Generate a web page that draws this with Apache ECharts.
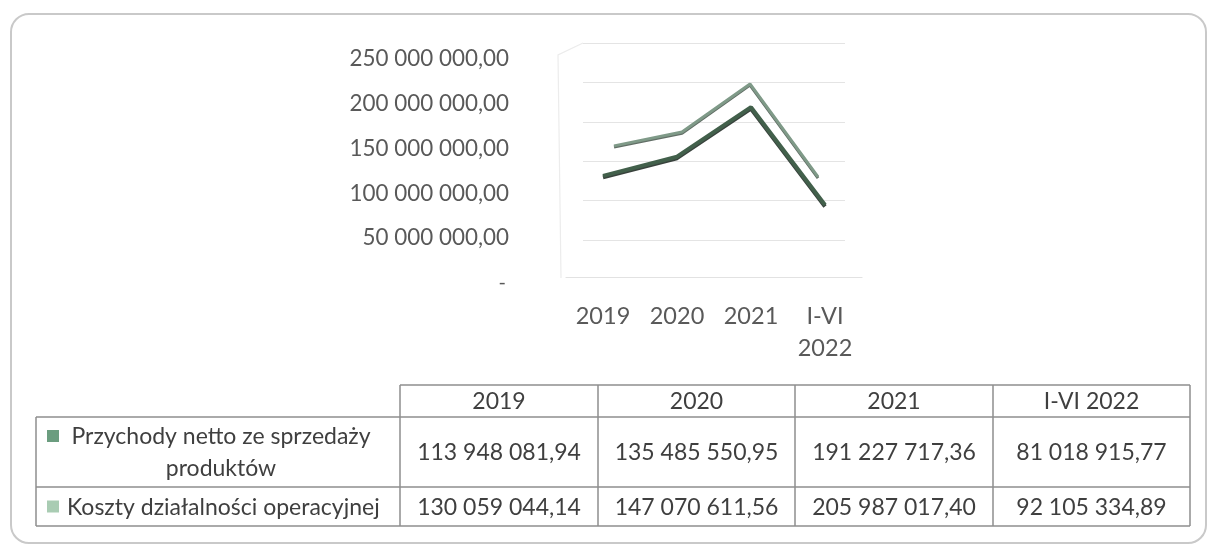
<!DOCTYPE html>
<html>
<head>
<meta charset="utf-8">
<script src="https://cdn.jsdelivr.net/npm/echarts@6/dist/echarts.min.js"></script>
<style>
  html, body { margin: 0; padding: 0; background: #ffffff; }
  #chart { width: 1208px; height: 548px; }
</style>
</head>
<body>
<div id="chart"></div>
<script>
// Periods and the two financial series (PLN)
const categories = ['2019', '2020', '2021', 'I-VI 2022'];
const seriesNames = ['Przychody netto ze sprzedaży produktów', 'Koszty działalności operacyjnej'];
const revenue = [113948081.94, 135485550.95, 191227717.36, 81018915.77];
const costs = [130059044.14, 147070611.56, 205987017.40, 92105334.89];
const valueTicks = [0, 50000000, 100000000, 150000000, 200000000, 250000000];

// Styling
const FONT = 'Lato';
const AXIS_TEXT = '#595959';
const TABLE_TEXT = '#3f3f3f';
const TABLE_LINE = '#8e8e8e';
const WALL_LINE = '#e4e4e4';
const lineColors = ['#42604b', '#7f9a88'];
const keyColors = ['#6b9d7f', '#a9ccb3'];

const yMin = valueTicks[0];
const yMax = valueTicks[valueTicks.length - 1];
const yStep = valueTicks[1] - valueTicks[0];

// Polish number format: space-grouped thousands, comma decimals, zero as dash
function formatPL(v) {
  if (v === 0) return '-';
  const parts = v.toFixed(2).split('.');
  return parts[0].replace(/\B(?=(\d{3})+(?!\d))/g, ' ') + ',' + parts[1];
}

function wrapLabel(text, maxChars) {
  if (text.length <= maxChars) return text;
  const cut = text.lastIndexOf(' ', maxChars);
  return text.slice(0, cut) + '\n' + text.slice(cut + 1);
}

// Data table layout
const table = {
  left: 36,
  labelRight: 400,
  colEdges: [400, 598, 795, 993, 1190],
  headerTop: 385,
  rowEdges: [417, 487, 526]
};

function tableGraphics() {
  const els = [];
  const line = (x1, y1, x2, y2) => els.push({
    type: 'line', silent: true,
    shape: { x1, y1, x2, y2 },
    style: { stroke: TABLE_LINE, lineWidth: 1.5 }
  });
  const right = table.colEdges[table.colEdges.length - 1];
  const bottom = table.rowEdges[table.rowEdges.length - 1];
  // horizontal rules
  line(table.labelRight, table.headerTop, right, table.headerTop);
  table.rowEdges.forEach(y => line(table.left, y, right, y));
  // vertical rules
  line(table.left, table.rowEdges[0], table.left, bottom);
  table.colEdges.forEach(x => line(x, table.headerTop, x, bottom));

  const textStyle = (extra) => Object.assign({
    fontFamily: FONT, fontSize: 23, fill: TABLE_TEXT,
    align: 'center', verticalAlign: 'middle'
  }, extra);

  // header
  categories.forEach((c, i) => {
    els.push({
      type: 'text', silent: true,
      style: textStyle({
        text: c,
        x: (table.colEdges[i] + table.colEdges[i + 1]) / 2,
        y: (table.headerTop + table.rowEdges[0]) / 2 + 1
      })
    });
  });

  // body rows
  const rows = [revenue, costs];
  let top = table.rowEdges[0];
  rows.forEach((vals, r) => {
    const bottomY = table.rowEdges[r + 1];
    const cy = (top + bottomY) / 2;
    vals.forEach((v, i) => {
      els.push({
        type: 'text', silent: true,
        style: textStyle({
          text: formatPL(v),
          x: (table.colEdges[i] + table.colEdges[i + 1]) / 2,
          y: cy + 1
        })
      });
    });
    const label = wrapLabel(seriesNames[r], 32);
    const multi = label.indexOf('\n') >= 0;
    const keyY = multi ? cy - 22 : cy - 6;
    els.push({
      type: 'rect', silent: true,
      shape: { x: 47, y: keyY, width: 12, height: 12 },
      style: { fill: keyColors[r] }
    });
    els.push({
      type: 'text', silent: true,
      style: multi
        ? textStyle({ text: label, x: 221, y: cy + 1, lineHeight: 32 })
        : textStyle({ text: label, x: 67, y: cy + 1, align: 'left' })
    });
    top = bottomY;
  });
  return els;
}

// Outer rounded frame and the faint side-wall edge of the 3D plot
const decoration = [
  {
    type: 'rect', silent: true, z: -10,
    shape: { x: 11, y: 14, width: 1195, height: 529, r: 18 },
    style: { fill: 'none', stroke: '#c9c9c9', lineWidth: 2 }
  },
  {
    type: 'polyline', silent: true, z: -10,
    shape: { points: [[583, 43], [558, 55], [561, 278]] },
    style: { stroke: '#ececec', lineWidth: 1.2, fill: 'none' }
  }
];

const chart = echarts.init(document.getElementById('chart'), null, { renderer: 'canvas' });

const hiddenCat = { type: 'category', data: categories, show: false, boundaryGap: true };
const hiddenVal = { type: 'value', min: yMin, max: yMax, interval: yStep, show: false };

chart.setOption({
  animation: false,
  backgroundColor: '#ffffff',
  textStyle: { fontFamily: FONT },
  grid: [
    // 0: value labels along the front edge
    { left: 520, top: 59, width: 40, height: 224, outerBoundsMode: 'none' },
    // 1: front series (revenue) and category labels
    { left: 566, top: 55, width: 296, height: 222, outerBoundsMode: 'none' },
    // 2: rear series (costs)
    { left: 580, top: 48, width: 272, height: 204, outerBoundsMode: 'none' },
    // 3: back wall with gridlines
    { left: 583, top: 43, width: 262, height: 197, outerBoundsMode: 'none' }
  ],
  xAxis: [
    Object.assign({}, hiddenCat, { gridIndex: 0 }),
    {
      gridIndex: 1, type: 'category', data: categories, boundaryGap: true,
      axisLine: { show: true, lineStyle: { color: '#e2e2e2', width: 1.2 } },
      axisTick: { show: false },
      axisLabel: {
        margin: 23, color: AXIS_TEXT, fontFamily: FONT, fontSize: 23.5, lineHeight: 32,
        interval: 0,
        formatter: (v) => v.replace(' ', '\n')
      }
    },
    Object.assign({}, hiddenCat, { gridIndex: 2 }),
    Object.assign({}, hiddenCat, { gridIndex: 3 })
  ],
  yAxis: [
    {
      gridIndex: 0, type: 'value', min: yMin, max: yMax, interval: yStep,
      axisLine: { show: false }, axisTick: { show: false }, splitLine: { show: false },
      axisLabel: {
        margin: 11, color: AXIS_TEXT, fontFamily: FONT, fontSize: 22.4,
        formatter: (v) => v === 0 ? '{z|-}' : formatPL(v),
        rich: { z: { fontSize: 20, color: AXIS_TEXT, padding: [0, 3, 0, 0] } }
      }
    },
    Object.assign({}, hiddenVal, { gridIndex: 1 }),
    Object.assign({}, hiddenVal, { gridIndex: 2 }),
    {
      gridIndex: 3, type: 'value', min: yMin, max: yMax, interval: yStep,
      axisLine: { show: false }, axisTick: { show: false }, axisLabel: { show: false },
      splitLine: { show: true, lineStyle: { color: WALL_LINE, width: 1 } }
    }
  ],
  series: [
    {
      name: seriesNames[1], type: 'line', xAxisIndex: 2, yAxisIndex: 2,
      data: costs, symbol: 'none', z: 3,
      lineStyle: {
        color: lineColors[1], width: 3,
        shadowColor: 'rgba(70,85,75,0.85)', shadowBlur: 0, shadowOffsetY: 1.2
      }
    },
    {
      name: seriesNames[0], type: 'line', xAxisIndex: 1, yAxisIndex: 1,
      data: revenue, symbol: 'none', z: 4,
      lineStyle: {
        color: lineColors[0], width: 4,
        shadowColor: 'rgba(35,45,40,0.9)', shadowBlur: 0, shadowOffsetY: 1.5
      }
    }
  ],
  graphic: decoration.concat(tableGraphics())
});
</script>
</body>
</html>
